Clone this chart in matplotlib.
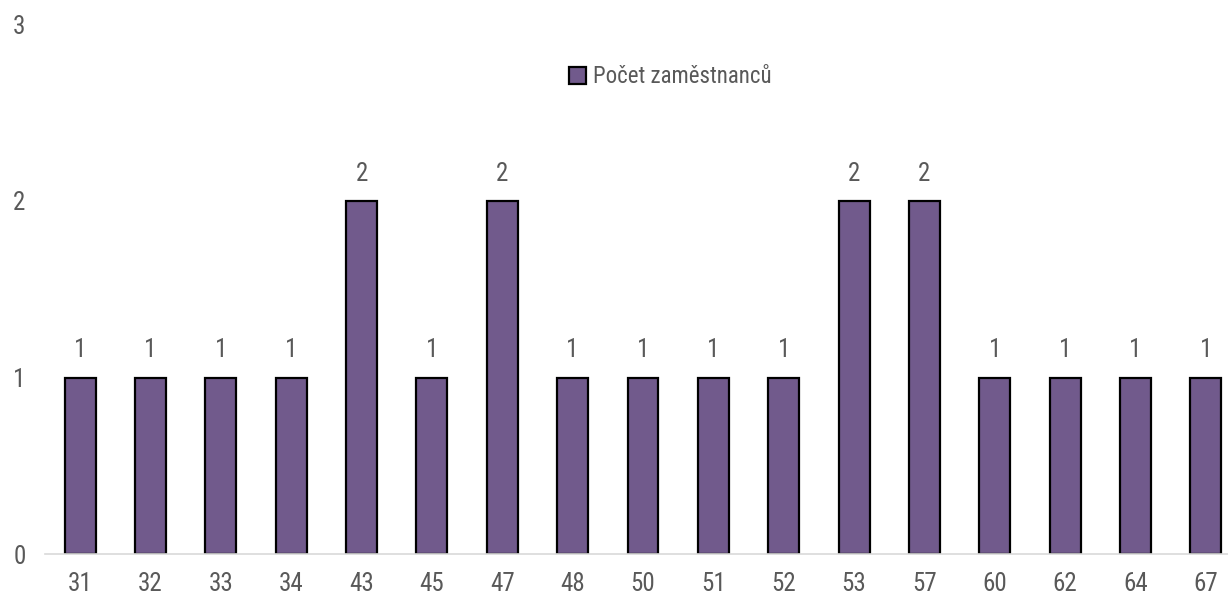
import matplotlib
matplotlib.use("Agg")
from matplotlib import pyplot as plt
from matplotlib.patches import Patch

# věk zaměstnanců a jejich počet
vek = ["31", "32", "33", "34", "43", "45", "47", "48", "50", "51", "52",
       "53", "57", "60", "62", "64", "67"]
pocet = [1, 1, 1, 1, 2, 1, 2, 1, 1, 1, 1, 2, 2, 1, 1, 1, 1]

plt.rcParams['font.family'] = ['Roboto Condensed', 'Liberation Sans', 'DejaVu Sans']
text_color = '#595959'
bar_color = '#715a8c'

fig = plt.figure(figsize=(12.28, 5.94), dpi=100, facecolor='w')
# graf je vpravo oříznutý
ax = fig.add_axes([45 / 1228, 40 / 594, 1196 / 1228, 529.5 / 594])

x = range(len(vek))
bars = ax.bar(x, pocet, width=0.44, color=bar_color, edgecolor='black', linewidth=1.6)
ax.bar_label(bars, labels=[str(v) for v in pocet], padding=11, fontsize=18, color=text_color)

ax.set_xlim(-0.5, len(vek) - 0.5)
ax.set_ylim(0, 3)
ax.set_xticks(list(x))
ax.set_xticklabels(vek, fontsize=18, color=text_color)
ax.set_yticks([0, 1, 2, 3])
ax.set_yticklabels(['0', '1', '2', '3'], fontsize=18, color=text_color)
ax.tick_params(axis='x', length=0, pad=13)
ax.tick_params(axis='y', length=0, pad=14)

for side in ['top', 'right', 'left']:
    ax.spines[side].set_visible(False)
ax.spines['bottom'].set_color('#d9d9d9')
ax.spines['bottom'].set_linewidth(1.2)

handle = Patch(facecolor=bar_color, edgecolor='black', linewidth=1.6)
fig.legend([handle], ['Počet zaměstnanců'], loc='center', bbox_to_anchor=(670 / 1228, 1 - 77 / 594),
           frameon=False, fontsize=16.5, labelcolor=text_color, handlelength=0.75, handleheight=0.75,
           handletextpad=0.3)

plt.savefig('out.png', dpi=100, facecolor='w')
